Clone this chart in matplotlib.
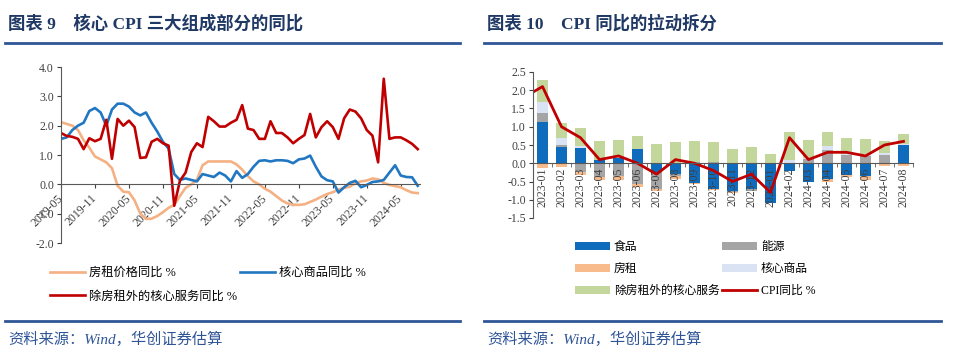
import numpy as np
import pandas as pd
import matplotlib
matplotlib.use("Agg")
import matplotlib.pyplot as plt
from matplotlib.lines import Line2D

plt.rcParams["font.family"] = ["Liberation Serif", "Noto Sans CJK SC"]
plt.rcParams["axes.unicode_minus"] = False

# ---- left chart: core CPI components, yoy % (2019-05 .. 2024-08)
left_months = pd.period_range("2019-05", "2024-08", freq="M").strftime("%Y-%m").tolist()
rent_yoy = [2.12, 2.06, 2.0, 1.85, 1.5, 1.25, 0.95, 0.85, 0.75, 0.55,
            -0.05, -0.25, -0.27, -0.55, -1.0, -1.18, -1.17, -1.08, -0.95, -0.8,
            -0.7, -0.4, -0.12, 0.0, 0.15, 0.65, 0.78, 0.78, 0.78, 0.78,
            0.78, 0.68, 0.5, 0.28, 0.1, 0.0, -0.15, -0.25, -0.4, -0.55,
            -0.65, -0.7, -0.7, -0.68, -0.6, -0.52, -0.42, -0.33, -0.27, -0.18,
            -0.12, -0.08, 0.05, 0.1, 0.13, 0.2, 0.17, 0.05, -0.02, -0.06,
            -0.1, -0.2, -0.28, -0.3]
goods_yoy = [1.55, 1.6, 1.85, 2.0, 2.1, 2.5, 2.6, 2.45, 2.0, 2.55,
             2.75, 2.75, 2.65, 2.45, 2.35, 2.45, 2.1, 1.8, 1.45, 1.22,
             0.35, 0.15, 0.2, 0.15, 0.1, 0.35, 0.3, 0.25, 0.4, 0.3,
             0.1, 0.45, 0.22, 0.35, 0.6, 0.8, 0.82, 0.78, 0.82, 0.82,
             0.8, 0.72, 0.85, 0.88, 0.98, 0.6, 0.27, 0.14, 0.1, -0.28,
             -0.1, 0.05, 0.12, -0.1, -0.02, 0.08, 0.1, 0.15, 0.4, 0.65,
             0.3, 0.25, 0.24, -0.05]
services_yoy = [1.75, 1.65, 1.62, 1.55, 1.2, 1.57, 1.47, 1.55, 2.2, 0.87,
                2.23, 2.0, 2.17, 1.95, 0.9, 0.92, 1.45, 1.55, 1.4, 1.32,
                -0.73, 0.12, 0.4, 1.1, 1.4, 1.27, 2.3, 2.15, 1.97, 1.97,
                2.1, 2.2, 2.7, 1.9, 1.85, 1.55, 1.55, 2.15, 1.75, 1.75,
                1.6, 1.4, 1.55, 1.68, 2.4, 1.6, 1.95, 2.15, 1.95, 1.55,
                2.25, 2.55, 2.48, 2.25, 1.85, 1.66, 0.75, 3.6, 1.55, 1.6,
                1.6, 1.5, 1.38, 1.2]

# ---- right chart: contribution to CPI yoy (2023-01 .. 2024-08)
right_months = pd.period_range("2023-01", "2024-08", freq="M").strftime("%Y-%m").tolist()
food = [1.12, 0.45, 0.42, 0.08, 0.15, 0.38, -0.25, -0.3, -0.55, -0.7,
        -0.75, -0.7, -1.1, -0.2, -0.5, -0.42, -0.33, -0.36, 0.0, 0.5]
energy = [0.25, 0.05, -0.24, -0.38, -0.36, -0.56, -0.45, -0.05, 0.03, 0.03,
          -0.05, -0.07, 0.0, 0.02, 0.13, 0.36, 0.22, 0.19, 0.22, 0.0]
rent = [-0.12, -0.1, -0.09, -0.09, -0.09, -0.09, -0.07, -0.08, -0.03, -0.02,
        -0.02, 0.0, 0.0, 0.0, 0.0, -0.09, -0.04, -0.09, -0.08, -0.08]
core_goods = [0.32, 0.2, 0.05, 0.0, 0.02, 0.0, 0.02, 0.0, 0.0, 0.0,
              0.0, 0.0, 0.0, 0.06, 0.02, 0.11, 0.03, 0.07, 0.05, 0.02]
core_services = [0.58, 0.39, 0.49, 0.52, 0.48, 0.36, 0.52, 0.59, 0.58, 0.54,
                 0.4, 0.44, 0.25, 0.78, 0.48, 0.39, 0.45, 0.4, 0.35, 0.29]
cpi_months = ["2022-12"] + right_months
cpi_yoy = [1.8, 2.1, 1.0, 0.7, 0.1, 0.2, 0.0, -0.3, 0.1, 0.0, -0.2,
           -0.5, -0.3, -0.8, 0.7, 0.1, 0.3, 0.3, 0.2, 0.5, 0.6]

W, H = 960, 359
fig = plt.figure(figsize=(W / 100, H / 100), dpi=100)

def fx(px):
    return px / W

def fy(py):
    return 1 - py / H

navy = "#1F3864"
rule_c = "#2F5597"
tick_c = "#404040"

# headers, rules and source lines
for x0, x1, title in [(8, 460, "图表 9    核心 CPI 三大组成部分的同比"),
                      (487, 941, "图表 10    CPI 同比的拉动拆分")]:
    fig.text(fx(x0), fy(24), title, fontsize=12.5, fontweight="bold", color=navy, va="center")
    fig.add_artist(Line2D([fx(x0 - 3), fx(x1)], [fy(43), fy(43)], color=rule_c, lw=2))
    fig.add_artist(Line2D([fx(x0 - 3), fx(x1)], [fy(321), fy(321)], color=rule_c, lw=2))
    fig.text(fx(x0), fy(339), "资料来源：Wind，华创证券估算", fontsize=11, style="italic",
             color=rule_c, va="center")

# ---- left chart
ax1 = fig.add_axes([fx(61), fy(243), fx(420 - 61), fy(67) - fy(243)])
xl = np.arange(len(left_months))
l_rent, = ax1.plot(xl, rent_yoy, color="#F4B183", lw=1.9)
l_goods, = ax1.plot(xl, goods_yoy, color="#2177C1", lw=1.9)
l_serv, = ax1.plot(xl, services_yoy, color="#C00000", lw=1.9)
ax1.set_xlim(0, 63.4)
ax1.set_ylim(-2, 4)
ax1.set_yticks(np.arange(-2, 4.1, 1))
ax1.set_yticklabels([f"{v:.1f}" for v in np.arange(-2, 4.1, 1)])
ax1.spines["bottom"].set_position(("data", 0))
ax1.spines[["top", "right"]].set_visible(False)
for s in ["left", "bottom"]:
    ax1.spines[s].set_color("#595959")
    ax1.spines[s].set_linewidth(0.8)
ax1.set_xticks(xl[::6])
ax1.set_xticklabels(left_months[::6], rotation=45, ha="right", va="center",
                    rotation_mode="anchor")
ax1.tick_params(axis="x", length=3, direction="out", pad=6, labelsize=8.5, colors=tick_c)
ax1.tick_params(axis="y", length=3, direction="out", pad=2, labelsize=8.5, colors=tick_c)

fig.legend([l_rent, l_serv, l_goods],
           ["房租价格同比 %", "除房租外的核心服务同比 %", "核心商品同比 %"],
           ncol=2, loc="upper left", bbox_to_anchor=(fx(50), fy(267)),
           frameon=False, fontsize=8.8, handlelength=2.9, handletextpad=0.3,
           columnspacing=0.2, labelspacing=0.95, borderaxespad=0, borderpad=0)

# ---- right chart
ax2 = fig.add_axes([fx(533), fy(218), fx(913 - 533), fy(72) - fy(218)])
xr = np.arange(len(right_months))
series = [(food, "#0F6CBD", "食品"), (energy, "#A5A5A5", "能源"),
          (rent, "#F8BB8C", "房租"), (core_goods, "#DAE3F3", "核心商品"),
          (core_services, "#C3D69B", "除房租外的核心服务")]
pos = np.zeros(len(xr))
neg = np.zeros(len(xr))
handles = {}
for vals, col, name in series:
    v = np.array(vals)
    bottom = np.where(v >= 0, pos, neg)
    handles[name] = ax2.bar(xr, v, width=0.55, bottom=bottom, color=col, label=name)
    pos = pos + np.where(v >= 0, v, 0)
    neg = neg + np.where(v < 0, v, 0)
xc = np.arange(-1, len(right_months))
l_cpi, = ax2.plot(xc, cpi_yoy, color="#C00000", lw=2, clip_on=True)
ax2.set_xlim(-0.5, len(right_months) - 0.5)
ax2.set_ylim(-1.5, 2.5)
yt = np.arange(-1.5, 2.51, 0.5)
ax2.set_yticks(yt)
ax2.set_yticklabels([f"{v:.1f}" for v in yt])
ax2.spines["bottom"].set_position(("data", 0))
ax2.spines[["top", "right"]].set_visible(False)
for s in ["left", "bottom"]:
    ax2.spines[s].set_color("#595959")
    ax2.spines[s].set_linewidth(0.8)
ax2.set_xticks(xr)
ax2.set_xticklabels(right_months, rotation=90, va="top", ha="center")
ax2.set_xticks(np.arange(-0.5, len(right_months), 1), minor=True)
ax2.tick_params(axis="x", which="major", length=0, pad=3, labelsize=8.5, colors=tick_c)
ax2.tick_params(axis="x", which="minor", length=3, direction="out", color="#595959")
ax2.tick_params(axis="y", length=3, direction="out", pad=2, labelsize=8.5, colors=tick_c)

fig.legend([handles["食品"], handles["房租"], handles["除房租外的核心服务"],
            handles["能源"], handles["核心商品"], l_cpi],
           ["食品", "房租", "除房租外的核心服务", "能源", "核心商品", "CPI同比 %"],
           ncol=2, loc="upper left", bbox_to_anchor=(fx(575), fy(241)),
           frameon=False, fontsize=8.5, handlelength=3.0, handleheight=0.6,
           handletextpad=0.3, columnspacing=0.2, labelspacing=0.85,
           borderaxespad=0, borderpad=0)

fig.savefig("out.png", dpi=100)
